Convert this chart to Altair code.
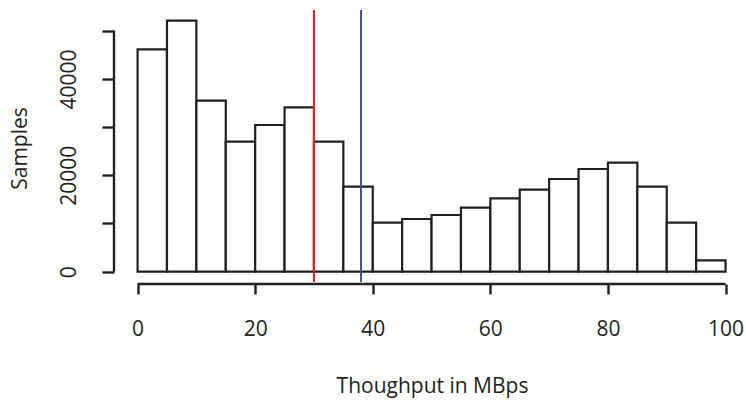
import altair as alt
import pandas as pd

# Histogram data (bin edges in MBps, counts in samples)
bin_start = [0, 5, 10, 15, 20, 25, 30, 35, 40, 45, 50, 55, 60, 65, 70, 75, 80, 85, 90, 95]
bin_end = [5, 10, 15, 20, 25, 30, 35, 40, 45, 50, 55, 60, 65, 70, 75, 80, 85, 90, 95, 100]
counts = [46140, 52070, 35480, 26970, 30440, 34110, 26970, 17630, 10170, 10930,
          11760, 13280, 15230, 17010, 19230, 21310, 22610, 17630, 10170, 2370]

# Reference lines
vline_x = [30, 38]
vline_color = ["#ED1C24", "#3953A4"]

x_ticks = [0, 20, 40, 60, 80, 100]
y_ticks = [0, 10000, 20000, 30000, 40000, 50000]

INK = "#231F20"
FONT = "Open Sans"
FS = 21
W, H = 632, 274

hist = pd.DataFrame({"start": bin_start, "end": bin_end, "count": counts})
vl = pd.DataFrame({"x": vline_x, "color": vline_color})

xscale = alt.Scale(domain=[-4.01, 103.48], nice=False, zero=False)
yscale = alt.Scale(domain=[-2552, 54295], nice=False, zero=False)

xaxis = alt.Axis(
    values=x_ticks, domain=False, grid=False, tickSize=10, tickWidth=2.4,
    tickColor=INK, labelColor=INK, labelFont=FONT, labelFontSize=FS,
    labelBaseline="top", labelPadding=24, labelFlush=False,
    titleFont=FONT, titleFontSize=FS,
    titleFontWeight="normal", titleColor=INK, titleX=318, titleY=108,
    titleAlign="center", titleBaseline="alphabetic")
yaxis = alt.Axis(
    values=y_ticks, domain=False, grid=False, tickSize=12, tickWidth=2.4,
    tickColor=INK, labelColor=INK, labelFont=FONT, labelFontSize=FS,
    labelAngle=270, labelAlign="center", labelBaseline="alphabetic",
    labelPadding=27, labelFlush=False, format="d",
    labelExpr="datum.value % 20000 == 0 ? datum.label : ''",
    titleFont=FONT, titleFontSize=FS,
    titleFontWeight="normal", titleColor=INK, titleAngle=270,
    titleX=-94, titleY=138, titleAlign="center", titleBaseline="middle")

XT = "Thoughput in MBps"
YT = "Samples"

bars = alt.Chart(hist).mark_rect(fill="white", stroke=INK, strokeWidth=2.2).encode(
    x=alt.X("start:Q", scale=xscale, axis=xaxis, title=XT),
    x2="end:Q",
    y=alt.Y("count:Q", scale=yscale, axis=yaxis, title=YT),
    y2=alt.datum(0),
)

lines = alt.Chart(vl).mark_rule(strokeWidth=2).encode(
    x=alt.X("x:Q", scale=xscale, axis=xaxis, title=XT),
    y=alt.value(0),
    y2=alt.value(272),
    color=alt.Color("color:N", scale=None),
)

xaxis_line = alt.Chart(pd.DataFrame({"a": [x_ticks[0]], "b": [x_ticks[-1]]})).mark_rule(
    color=INK, strokeWidth=2.4).encode(
    x=alt.X("a:Q", scale=xscale, axis=xaxis, title=XT), x2="b:Q", y=alt.value(H))

yaxis_line = alt.Chart(pd.DataFrame({"a": [y_ticks[0]], "b": [y_ticks[-1]]})).mark_rule(
    color=INK, strokeWidth=2.4).encode(
    y=alt.Y("a:Q", scale=yscale, axis=yaxis, title=YT), y2="b:Q", x=alt.value(0))

chart = alt.layer(bars, lines, xaxis_line, yaxis_line).properties(
    width=W, height=H,
    background="white",
    autosize=alt.AutoSizeParams(type="none"),
    padding={"left": 114, "top": 10, "right": 0, "bottom": 119},
).configure_view(stroke=None)

chart.save("out.html", embed_options={"renderer": "svg", "actions": False})
